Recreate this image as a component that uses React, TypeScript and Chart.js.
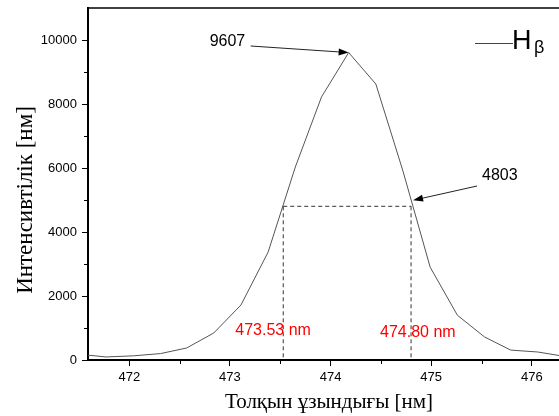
import React, { useEffect, useRef } from "react";
import { Chart, registerables } from "chart.js";
Chart.register(...registerables);

const wavelengths = [471.5, 471.77, 472.04, 472.31, 472.57, 472.84, 473.11, 473.38, 473.65, 473.91, 474.18, 474.45, 474.72, 474.99, 475.26, 475.53, 475.79, 476.06, 476.33];
const intensities = [180, 95, 130, 200, 375, 845, 1720, 3375, 6030, 8220, 9607, 8625, 5900, 2900, 1400, 720, 310, 250, 110];
const xTicks = [472, 473, 474, 475, 476];
const xMinorTicks = [472.5, 473.5, 474.5, 475.5];
const yTicks = [0, 2000, 4000, 6000, 8000, 10000];
const yMinorTicks = [1000, 3000, 5000, 7000, 9000];
const peakX = 474.18;
const peakValue = 9607;
const halfValue = 4803;
const halfLeft = 473.53;
const halfRight = 474.8;
const xTitle = "Толқын ұзындығы [нм]";
const yTitle = "Интенсивтілік [нм]";

function arrow(ctx: CanvasRenderingContext2D, x1: number, y1: number, x2: number, y2: number) {
  const a = Math.atan2(y2 - y1, x2 - x1);
  const L = 10, W = 3.5;
  ctx.beginPath();
  ctx.moveTo(x1, y1);
  ctx.lineTo(x2 - Math.cos(a) * L * 0.8, y2 - Math.sin(a) * L * 0.8);
  ctx.stroke();
  ctx.beginPath();
  ctx.moveTo(x2, y2);
  ctx.lineTo(x2 - Math.cos(a) * L - Math.sin(a) * W, y2 - Math.sin(a) * L + Math.cos(a) * W);
  ctx.lineTo(x2 - Math.cos(a) * L + Math.sin(a) * W, y2 - Math.sin(a) * L - Math.cos(a) * W);
  ctx.closePath();
  ctx.fill();
}

const decor = {
  id: "decor",
  afterDraw(chart: any) {
    const ctx: CanvasRenderingContext2D = chart.ctx;
    const xs = chart.scales.x, ys = chart.scales.y;
    const area = chart.chartArea;
    ctx.save();
    // top border
    ctx.strokeStyle = "#000";
    ctx.lineWidth = 1.5;
    ctx.beginPath();
    ctx.moveTo(area.left - 1, area.top);
    ctx.lineTo(area.right, area.top);
    ctx.stroke();
    // minor ticks
    ctx.lineWidth = 1;
    ctx.beginPath();
    xMinorTicks.forEach((v) => {
      const px = Math.round(xs.getPixelForValue(v)) + 0.5;
      ctx.moveTo(px, area.bottom);
      ctx.lineTo(px, area.bottom + 4);
    });
    yMinorTicks.forEach((v) => {
      const py = Math.round(ys.getPixelForValue(v)) + 0.5;
      ctx.moveTo(area.left, py);
      ctx.lineTo(area.left - 4, py);
    });
    ctx.stroke();
    // dashed FWHM lines
    const xl = xs.getPixelForValue(halfLeft);
    const xr = xs.getPixelForValue(halfRight);
    const yh = ys.getPixelForValue(halfValue);
    const y0 = ys.getPixelForValue(0);
    ctx.strokeStyle = "#333";
    ctx.setLineDash([4, 3]);
    ctx.beginPath();
    ctx.moveTo(xl, yh); ctx.lineTo(xr, yh);
    ctx.moveTo(xl, yh); ctx.lineTo(xl, y0);
    ctx.moveTo(xr, yh); ctx.lineTo(xr, y0);
    ctx.stroke();
    ctx.setLineDash([]);
    // red labels
    ctx.fillStyle = "#ff0000";
    ctx.font = "16px 'Liberation Sans', Arial, sans-serif";
    ctx.textBaseline = "middle";
    ctx.textAlign = "left";
    ctx.fillText(halfLeft.toFixed(2) + " nm", xl - 48, 331);
    ctx.fillText(halfRight.toFixed(2) + " nm", xr - 31, 333);
    // peak annotation
    const px = xs.getPixelForValue(peakX), py = ys.getPixelForValue(peakValue);
    ctx.fillStyle = "#000";
    ctx.strokeStyle = "#222";
    ctx.fillText(String(peakValue), px - 139, 42);
    arrow(ctx, px - 98, 46, px, py);
    // half annotation
    ctx.fillText(String(halfValue), xr + 71, 176);
    arrow(ctx, xr + 66, 186, xr + 2, yh - 6);
    // legend
    ctx.strokeStyle = "#444";
    ctx.lineWidth = 1;
    ctx.beginPath();
    ctx.moveTo(475, 43.5); ctx.lineTo(513, 43.5);
    ctx.stroke();
    ctx.fillStyle = "#000";
    ctx.textBaseline = "alphabetic";
    ctx.font = "27px 'Liberation Sans', Arial, sans-serif";
    ctx.fillText("H", 512, 49);
    ctx.font = "18px 'Liberation Sans', Arial, sans-serif";
    ctx.fillText("β", 534, 53);
    // axis titles
    ctx.font = "21px 'Liberation Serif', 'Times New Roman', serif";
    ctx.textAlign = "center";
    ctx.fillText(xTitle, 329, 408);
    ctx.save();
    ctx.translate(32, 200);
    ctx.rotate(-Math.PI / 2);
    ctx.font = "23px 'Liberation Serif', 'Times New Roman', serif";
    ctx.fillText(yTitle, 0, 0);
    ctx.restore();
    ctx.restore();
  },
};

export default function App() {
  const ref = useRef<HTMLCanvasElement | null>(null);
  useEffect(() => {
    if (!ref.current) return;
    const tickFont = { family: "'Liberation Sans', Arial, sans-serif", size: 13 };
    const chart = new Chart(ref.current, {
      type: "line",
      data: {
        datasets: [
          {
            data: wavelengths.map((w, i) => ({ x: w, y: intensities[i] })),
            borderColor: "#555",
            borderWidth: 1,
            pointRadius: 0,
            tension: 0,
            fill: false,
          },
        ],
      },
      options: {
        animation: false,
        responsive: false,
        layout: { padding: { top: 8, left: 0, right: 0, bottom: 0 } },
        plugins: { legend: { display: false }, tooltip: { enabled: false } },
        scales: {
          x: {
            type: "linear",
            min: 471.59,
            max: 476.27,
            afterBuildTicks: (s: any) => { s.ticks = xTicks.map((v) => ({ value: v })); },
            afterFit: (s: any) => { s.height = 56; s.paddingLeft = 0; s.paddingRight = 0; },
            ticks: { font: tickFont, color: "#000", padding: 4, maxRotation: 0, callback: (v: any) => String(v) },
            grid: { drawOnChartArea: false, drawTicks: true, tickLength: 6, color: "#000", tickColor: "#000" },
            border: { display: true, color: "#000", width: 2 },
          },
          y: {
            type: "linear",
            min: 0,
            max: 11000,
            afterBuildTicks: (s: any) => { s.ticks = yTicks.map((v) => ({ value: v })); },
            afterFit: (s: any) => { s.width = 88; s.paddingTop = 0; s.paddingBottom = 0; },
            ticks: { font: tickFont, color: "#000", padding: 5, callback: (v: any) => String(v) },
            grid: { drawOnChartArea: false, drawTicks: true, tickLength: 6, color: "#000", tickColor: "#000" },
            border: { display: true, color: "#000", width: 2 },
          },
        },
      },
      plugins: [decor],
    });
    return () => chart.destroy();
  }, []);
  return (
    <div style={{ position: "absolute", left: 0, top: 0, width: 559, height: 416, background: "#fff" }}>
      <canvas ref={ref} width={559} height={416} />
    </div>
  );
}
